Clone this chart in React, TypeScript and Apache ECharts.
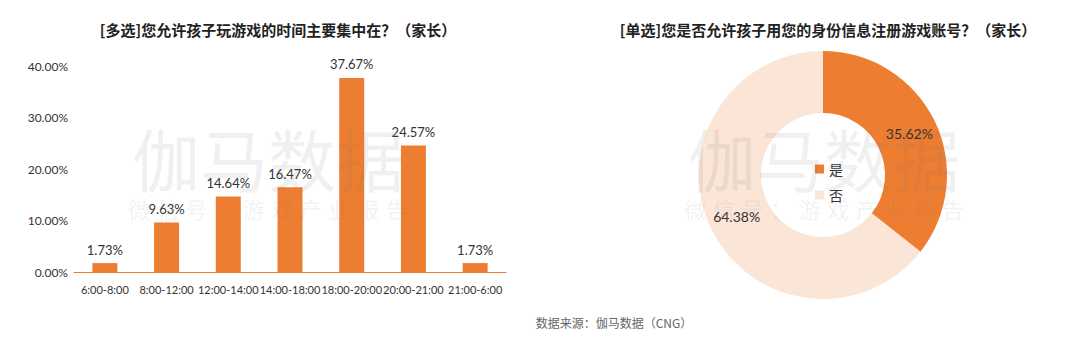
import React, { useEffect, useRef } from "react";
import * as echarts from "echarts";

const barCategories = ["6:00-8:00", "8:00-12:00", "12:00-14:00", "14:00-18:00", "18:00-20:00", "20:00-21:00", "21:00-6:00"];
const barValues = [1.73, 9.63, 14.64, 16.47, 37.67, 24.57, 1.73];
const yTicks = { min: 0, max: 40, interval: 10 };
const pieNames = ["是", "否"];
const pieValues = [35.62, 64.38];
const pieColors = ["#ED7D31", "#FBE5D6"];
const titleLeft = "[多选]您允许孩子玩游戏的时间主要集中在？（家长）";
const titleRight = "[单选]您是否允许孩子用您的身份信息注册游戏账号？（家长）";
const sourceText = "数据来源：伽马数据（CNG）";
const wmMain = "伽马数据";
const wmSub = ["微", "信", "号", "：", "游", "戏", "产", "业", "报", "告"];

const FONT = 'Lato, "Noto Sans CJK SC", sans-serif';
const CJK = '"Noto Sans CJK SC", sans-serif';

function watermark(cx: number): any[] {
  const els: any[] = [
    {
      type: "text",
      x: cx,
      y: 157,
      silent: true,
      z: 100,
      style: {
        text: wmMain,
        fontSize: 68,
        fontFamily: CJK,
        fill: "rgba(120,120,120,0.11)",
        align: "center",
        verticalAlign: "middle",
        letterSpacing: 2,
      },
    },
  ];
  const step = 28.6;
  wmSub.forEach((ch, i) => {
    els.push({
      type: "text",
      x: cx + (i - (wmSub.length - 1) / 2) * step,
      y: 208,
      silent: true,
      z: 100,
      style: {
        text: ch,
        fontSize: 22,
        fontFamily: CJK,
        fill: "rgba(120,120,120,0.10)",
        align: "center",
        verticalAlign: "middle",
      },
    });
  });
  return els;
}

export default function App() {
  const ref = useRef<HTMLDivElement>(null);
  useEffect(() => {
    if (!ref.current) return;
    const chart = echarts.init(ref.current, undefined, { renderer: "svg" });
    chart.setOption({
      animation: false,
      backgroundColor: "#ffffff",
      title: [
        {
          text: titleLeft,
          left: 273,
          top: 17,
          textAlign: "center",
          textStyle: { fontSize: 15, fontWeight: "bold", color: "#222", fontFamily: CJK },
        },
        {
          text: titleRight,
          left: 823,
          top: 17,
          textAlign: "center",
          textStyle: { fontSize: 15, fontWeight: "bold", color: "#222", fontFamily: CJK },
        },
      ],
      grid: { left: 74, right: 574, top: 66, bottom: 79, containLabel: false },
      xAxis: {
        type: "category",
        data: barCategories,
        axisLine: { show: true, lineStyle: { color: "#ED7D31", width: 1 } },
        axisTick: { show: false },
        axisLabel: { color: "#333", fontSize: 11, margin: 12, fontFamily: FONT, interval: 0 },
      },
      yAxis: {
        type: "value",
        min: yTicks.min,
        max: yTicks.max,
        interval: yTicks.interval,
        axisLine: { show: false },
        axisTick: { show: false },
        splitLine: { show: false },
        axisLabel: {
          color: "#333",
          fontSize: 12,
          margin: 6,
          fontFamily: FONT,
          formatter: (v: number) => v.toFixed(2) + "%",
        },
      },
      legend: {
        orient: "vertical",
        left: 810,
        top: 157,
        itemWidth: 9,
        itemHeight: 9,
        itemGap: 12,
        icon: "rect",
        data: pieNames,
        textStyle: { fontSize: 14, color: "#333", fontFamily: CJK },
      },
      series: [
        {
          type: "bar",
          data: barValues,
          barWidth: 25,
          itemStyle: { color: "#ED7D31" },
          label: {
            show: true,
            position: "top",
            distance: 7,
            color: "#333",
            fontSize: 13,
            fontFamily: FONT,
            formatter: (p: any) => Number(p.value).toFixed(2) + "%",
          },
        },
        {
          type: "pie",
          center: [823, 175],
          radius: [62, 124],
          startAngle: 90,
          clockwise: true,
          data: pieNames.map((n, i) => ({ name: n, value: pieValues[i], itemStyle: { color: pieColors[i] } })),
          label: {
            show: true,
            position: "inside",
            color: "#333",
            fontSize: 14,
            fontFamily: FONT,
            formatter: (p: any) => Number(p.value).toFixed(2) + "%",
          },
          labelLine: { show: false },
          emphasis: { disabled: true },
        },
      ],
      graphic: [
        ...watermark(268),
        ...watermark(824),
        {
          type: "text",
          x: 614,
          y: 322,
          style: {
            text: sourceText,
            fontSize: 12,
            fontFamily: CJK,
            fill: "#666",
            align: "center",
            verticalAlign: "middle",
          },
        },
      ],
    });
    return () => chart.dispose();
  }, []);
  return <div ref={ref} style={{ position: "fixed", left: 0, top: 0, width: 1080, height: 351 }} />;
}
